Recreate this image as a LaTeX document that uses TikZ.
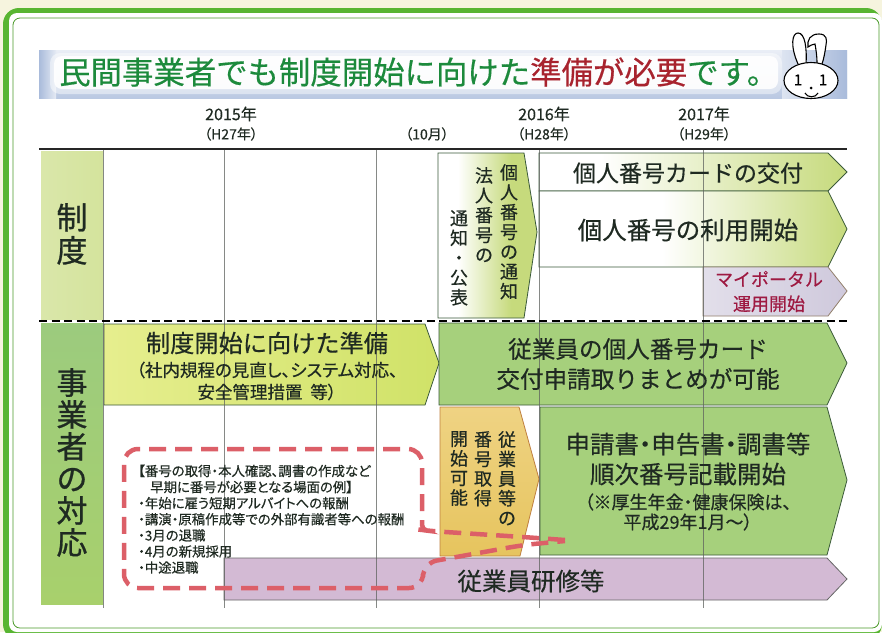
\documentclass[tikz,border=0pt]{standalone}
\usepackage{fontspec}
\setmainfont{Noto Sans CJK JP}
\newfontfamily\cjkm[FakeBold=0.45]{Noto Sans CJK JP}
\newfontfamily\cjkp[FakeBold=0.45,RawFeature={+palt}]{Noto Sans CJK JP}
\newfontfamily\cjkh[FakeBold=0.9]{Noto Sans CJK JP}
\newcommand{\fsz}[2]{\fontsize{#1}{#2}\selectfont\cjkm}
\newcommand{\fsp}[2]{\fontsize{#1}{#2}\selectfont\cjkp}
\newcommand{\fsh}[2]{\fontsize{#1}{#2}\selectfont\cjkh}
\definecolor{boxlime}{HTML}{C6DA7C}
\definecolor{bandblue}{HTML}{A9BBDB}
\definecolor{framegreen}{HTML}{58B531}
\definecolor{cream}{HTML}{F6F4DE}
\definecolor{titlegreen}{HTML}{1C8A3C}
\definecolor{titlered}{HTML}{A8232E}
\definecolor{ink}{HTML}{1F2A22}
\definecolor{edge}{HTML}{3B5A3A}
\definecolor{callout}{HTML}{DC5F68}
\definecolor{grid}{HTML}{5E625E}
\definecolor{sidegreen}{HTML}{9CCB7E}
\definecolor{sidegreenb}{HTML}{A8D06C}
\definecolor{barblue}{HTML}{A6D07C}
\definecolor{yellowa}{HTML}{E6EE8E}
\definecolor{yellowb}{HTML}{D0E268}
\definecolor{orangea}{HTML}{EFD383}
\definecolor{orangeb}{HTML}{E6C45E}
\definecolor{plum}{HTML}{D3BAD4}
\definecolor{lilac}{HTML}{CFC9DC}
\pgfdeclarehorizontalshading{cardgrad}{100bp}{color(0bp)=(white);color(35bp)=(white);color(75bp)=(boxlime);color(100bp)=(boxlime)}
\pgfdeclarehorizontalshading{usegrad}{100bp}{color(0bp)=(white);color(45bp)=(white);color(75bp)=(boxlime);color(100bp)=(boxlime)}
\pgfdeclarehorizontalshading{noticegrad}{100bp}{color(0bp)=(white);color(35bp)=(white);color(62bp)=(boxlime);color(100bp)=(boxlime)}
\tikzset{
  x=1pt,y=-1pt,
  lbl/.style={inner sep=0pt,text=ink,align=center},
  barbox/.style={draw=edge,line width=0.8pt},
  vlabel/.style={lbl,anchor=north},
  gridline/.style={draw=grid,line width=0.7pt},
  rabbit/.style={draw=black,line width=1.1pt},
}
\begin{document}
\begin{tikzpicture}
\useasboundingbox (0,0) rectangle (882,632);
% page and frame
\fill[cream] (0,0) rectangle (882,632);
\fill[framegreen,rounded corners=16pt] (3,8) rectangle (882,640);
\fill[white,rounded corners=8pt] (9,13) rectangle (882,632);
\draw[framegreen!85!black,line width=0.8pt,rounded corners=7pt,fill=white] (13,18) rectangle (879,628);
% title band
\shade[top color=bandblue!25,bottom color=bandblue!80] (39,50) rectangle (847,98);
\shade[left color=bandblue,right color=bandblue!30] (39,50) rectangle (56,98);
\shade[left color=bandblue!40,right color=bandblue] (782,50) rectangle (847,98);
\fill[white,opacity=.45,rounded corners=10pt] (50,53) rectangle (782,94);
\fill[white,opacity=.9,rounded corners=8pt] (54,56) rectangle (778,89);
\node[anchor=west,inner sep=0pt,text=titlegreen,font=\fsz{31.4}{31.4}] (title) at (59,72) {民間事業者でも制度開始に向けた\textcolor{titlered}{準備が必要}です。};
% rabbit
\path[rabbit,fill=white] (798,64) .. controls (790,46) and (792,33) .. (798,33) .. controls (805,33) and (807,48) .. (806,64);
\path[rabbit,fill=white] (817,64) .. controls (817,55) and (816,50) .. (815,44) .. controls (812,44) and (810,46) .. (808,47) .. controls (807,40) and (810,34) .. (819,34) .. controls (827,34) and (827,40) .. (826,45) .. controls (825,52) and (824,58) .. (822,64);
\path[rabbit,fill=white] (811,80.5) ellipse (27 and 18);
\node[inner sep=0pt,text=black,font=\fsh{15}{15}] (eyeL) at (798,80) {1};
\node[inner sep=0pt,text=black,font=\fsh{15}{15}] (eyeR) at (823,80) {1};
\fill[black] (811,88) circle (1.5);
\draw[black,line width=1.1pt] (805,93) .. controls (807,98) and (816,98) .. (818,93);
% time axis labels
\node[lbl,font=\fsz{16}{16}] (y15) at (231,114) {2015年};
\node[lbl,font=\fsp{14}{14}] (h27) at (231,134) {（H27年）};
\node[lbl,font=\fsp{14}{14}] (m10) at (427,134) {（10月）};
\node[lbl,font=\fsz{16}{16}] (y16) at (544,114) {2016年};
\node[lbl,font=\fsp{14}{14}] (h28) at (544,134) {（H28年）};
\node[lbl,font=\fsz{16}{16}] (y17) at (704,114) {2017年};
\node[lbl,font=\fsp{14}{14}] (h29) at (704,134) {（H29年）};
% side blocks
\shade[left color=boxlime!65!white,right color=boxlime!75!white] (41,151) rectangle (103,319);
\shade[top color=sidegreen,bottom color=sidegreenb] (41,323) rectangle (103,604);
\node[vlabel,font=\fsh{31}{33}] (sei) at (72,203) {制\\度};
\node[vlabel,font=\fsh{31}{32}] (jig) at (72,368) {事\\業\\者\\の\\対\\応};
% bars
\path[barbox,shading=noticegrad] (438,153) -- (524,153) -- (537,232) -- (524,318) -- (438,318) -- cycle;
\path[barbox,shading=cardgrad] (539,153) -- (828,153) -- (847,172) -- (828,191) -- (539,191) -- cycle;
\path[barbox,shading=usegrad] (539,191) -- (828,191) -- (847,229) -- (828,267) -- (539,267) -- cycle;
\path[draw=gray!70!brown,line width=0.8pt,left color=lilac!60!white,right color=lilac] (703,267) -- (828,267) -- (847,291) -- (828,316) -- (703,316) -- cycle;
\path[barbox,left color=yellowa,right color=yellowb] (104,324) -- (425,324) -- (439,363) -- (425,405) -- (104,405) -- cycle;
\path[barbox,fill=barblue] (439,323) -- (827,323) -- (847,363) -- (827,405) -- (439,405) -- cycle;
\path[draw=brown,line width=0.8pt,top color=orangea,bottom color=orangeb] (440,407) -- (519,407) -- (539,479) -- (520,556) -- (440,556) -- cycle;
\path[barbox,fill=barblue] (540,407) -- (827,407) -- (847,480) -- (827,555) -- (540,555) -- cycle;
\path[draw=black!60,line width=0.8pt,fill=plum] (224,558) -- (827,558) -- (847,579) -- (827,600) -- (224,600) -- cycle;
% grid
\draw[black!85,line width=1.4pt] (39,149) -- (847,149);
\foreach \gx in {103,224,376,539,703}{\draw[gridline,opacity=.75] (\gx,150) -- (\gx,608);}
\draw[black,line width=2pt,dash pattern=on 8pt off 4.5pt] (39,321) -- (847,321);
% bar labels
\node[vlabel,font=\fsz{18}{19.8}] (c1) at (509,164) {個\\人\\番\\号\\の\\通\\知};
\node[vlabel,font=\fsz{18}{19.8}] (c2) at (484,167) {法\\人\\番\\号\\の};
\node[vlabel,font=\fsz{18}{19.8}] (c3) at (459,210) {通\\知\\・\\公\\表};
\node[lbl,font=\fsz{23}{23}] (card) at (688,173) {個人番号カードの交付};
\node[lbl,font=\fsz{24.5}{24.5}] (use) at (688,230) {個人番号の利用開始};
\node[lbl,text=titlered!75!violet,font=\fsz{18}{24.5}] (portal) at (769,291.5) {マイポータル\\運用開始};
\node[lbl,font=\fsz{24.2}{24.2}] (prep) at (267,343) {制度開始に向けた準備};
\node[lbl,font=\fsp{17.5}{22}] (prep2) at (267,381) {（社内規程の見直し、システム対応、\\安全管理措置\ \ 等）};
\node[lbl,font=\fsz{23.6}{30}] (emp) at (638,364) {従業員の個人番号カード\\交付申請取りまとめが可能};
\node[vlabel,font=\fsz{18}{19.6}] (g1) at (507,431) {従\\業\\員\\等\\の};
\node[vlabel,font=\fsz{18}{19.6}] (g2) at (483,431) {番\\号\\取\\得};
\node[vlabel,font=\fsz{18}{19.6}] (g3) at (459,431) {開\\始\\可\\能};
\node[lbl,font=\fsp{24.5}{30}] (doc) at (688,459) {申請書・申告書・調書等\\順次番号記載開始};
\node[lbl,font=\fsp{18}{20}] (doc2) at (688,512) {（※厚生年金・健康保険は、\\平成29年1月～）};
\node[lbl,font=\fsz{24.5}{24.5}] (train) at (531,581) {従業員研修等};
% callout
\draw[callout,line width=4.5pt,dash pattern=on 17pt off 9pt,rounded corners=14pt] (565,540) -- (523,537) -- (430,531) [rounded corners=5pt] -- (422,530) [rounded corners=14pt] -- (422,449) -- (124,449) -- (124,588) -- (423,588) -- (423,563) -- (523,545) -- (565,541);
\node[anchor=north west,inner sep=0pt,text=ink,align=left,font=\fsp{13.4}{16.1}] (ex) at (138,464.5) {【番号の取得・本人確認、調書の作成など\\\hspace*{12pt}早期に番号が必要となる場面の例】\\・年始に雇う短期アルバイトへの報酬\\・講演・原稿作成等での外部有識者等への報酬\\・3月の退職\\・4月の新規採用\\・中途退職};
\end{tikzpicture}
\end{document}
